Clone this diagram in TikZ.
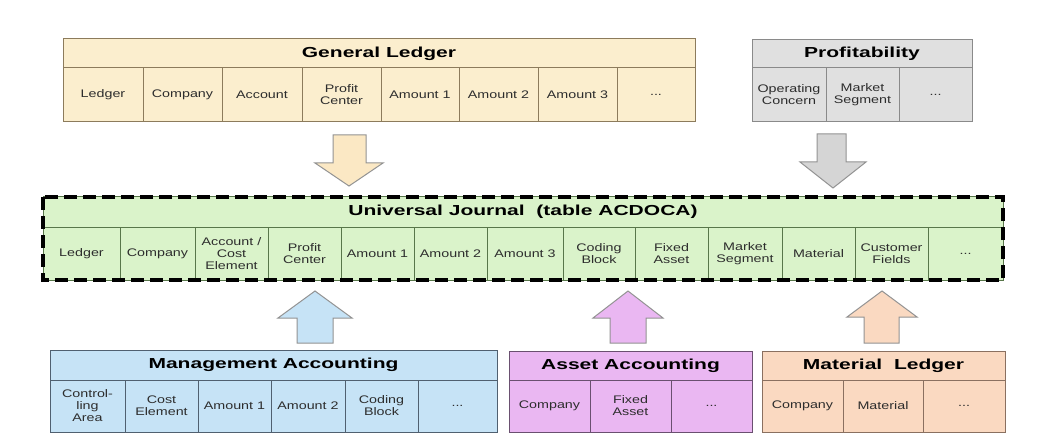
\documentclass[tikz,border=0pt]{standalone}
\usepackage{fontspec}
\setmainfont{Liberation Sans}
\newfontfamily\cellfont{Liberation Sans}[FakeStretch=1.3]
\newfontfamily\hdrfont{Liberation Sans}[FakeStretch=1.45]
\definecolor{glfill}{RGB}{251,238,206}
\definecolor{glline}{RGB}{140,123,92}
\definecolor{pffill}{RGB}{224,224,224}
\definecolor{pfline}{RGB}{138,138,138}
\definecolor{ujfill}{RGB}{218,243,202}
\definecolor{ujline}{RGB}{88,118,74}
\definecolor{mafill}{RGB}{198,227,246}
\definecolor{maline}{RGB}{80,96,112}
\definecolor{aafill}{RGB}{234,183,242}
\definecolor{aaline}{RGB}{106,80,112}
\definecolor{mlfill}{RGB}{250,217,193}
\definecolor{mlline}{RGB}{138,112,96}
\definecolor{celltext}{RGB}{45,45,45}
\newcommand\mycell[7]{\node[#6, minimum width={#3-#2}, minimum height={#5-#4}] (#1) at ({(#2+#3)/2},{(#4+#5)/2}) {#7};}
\tikzset{
  box/.style={rectangle, inner sep=0pt, outer sep=0pt, line width=1pt, align=center},
  cellbox/.style={box, font=\cellfont\fontsize{11}{12}\selectfont, text=celltext},
  hdrbox/.style={box, font=\hdrfont\bfseries\fontsize{14.5}{16}\selectfont, text=black},
  gl/.style={fill=glfill, draw=glline},
  pf/.style={fill=pffill, draw=pfline},
  uj/.style={fill=ujfill, draw=ujline},
  ma/.style={fill=mafill, draw=maline},
  aa/.style={fill=aafill, draw=aaline},
  ml/.style={fill=mlfill, draw=mlline},
  glc/.style={cellbox, gl}, glh/.style={hdrbox, gl},
  pfc/.style={cellbox, pf}, pfh/.style={hdrbox, pf},
  ujc/.style={cellbox, uj}, ujh/.style={hdrbox, uj},
  mac/.style={cellbox, ma}, mah/.style={hdrbox, ma},
  aac/.style={cellbox, aa}, aah/.style={hdrbox, aa},
  mlc/.style={cellbox, ml}, mlh/.style={hdrbox, ml},
  blockarrow/.style={line width=1pt, draw=gray!85, fill=#1},
}
\begin{document}
\begin{tikzpicture}[x=1pt,y=-1pt]
\useasboundingbox[fill=white] (0,0) rectangle (1061,441);
% General Ledger
\mycell{glh}{63}{695}{39}{68}{glh}{General Ledger}
\mycell{gl1}{63}{143}{68}{122}{glc}{Ledger}
\mycell{gl2}{143}{222}{68}{122}{glc}{Company}
\mycell{gl3}{222}{302}{68}{122}{glc}{Account}
\mycell{gl4}{302}{381}{68}{122}{glc}{Profit\\Center}
\mycell{gl5}{381}{459}{68}{122}{glc}{Amount 1}
\mycell{gl6}{459}{538}{68}{122}{glc}{Amount 2}
\mycell{gl7}{538}{617}{68}{122}{glc}{Amount 3}
\mycell{gl8}{617}{695}{68}{122}{glc}{...}
% Profitability
\mycell{pfh}{752}{972}{40}{68}{pfh}{Profitability}
\mycell{pf1}{752}{826}{68}{122}{pfc}{Operating\\Concern}
\mycell{pf2}{826}{899}{68}{122}{pfc}{Market\\Segment}
\mycell{pf3}{899}{972}{68}{122}{pfc}{...}
% Universal Journal
\mycell{ujh}{43}{1003}{197}{227}{ujh}{Universal Journal\ \ (table ACDOCA)}
\mycell{uj1}{43}{120}{227}{280}{ujc}{Ledger}
\mycell{uj2}{120}{195}{227}{280}{ujc}{Company}
\mycell{uj3}{195}{268}{227}{280}{ujc}{Account /\\Cost\\Element}
\mycell{uj4}{268}{341}{227}{280}{ujc}{Profit\\Center}
\mycell{uj5}{341}{414}{227}{280}{ujc}{Amount 1}
\mycell{uj6}{414}{487}{227}{280}{ujc}{Amount 2}
\mycell{uj7}{487}{563}{227}{280}{ujc}{Amount 3}
\mycell{uj8}{563}{635}{227}{280}{ujc}{Coding\\Block}
\mycell{uj9}{635}{708}{227}{280}{ujc}{Fixed\\Asset}
\mycell{uj10}{708}{782}{227}{280}{ujc}{Market\\Segment}
\mycell{uj11}{782}{855}{227}{280}{ujc}{Material}
\mycell{uj12}{855}{928}{227}{280}{ujc}{Customer\\Fields}
\mycell{uj13}{928}{1003}{227}{280}{ujc}{...}
\draw[line width=3.3pt, dash pattern=on 13pt off 6pt] (ujh.north west) rectangle (uj13.south east);
% Management Accounting
\mycell{mah}{50}{497}{350}{380}{mah}{Management Accounting}
\mycell{ma1}{50}{125}{380}{432}{mac}{Control-\\ling\\Area}
\mycell{ma2}{125}{198}{380}{432}{mac}{Cost\\Element}
\mycell{ma3}{198}{271}{380}{432}{mac}{Amount 1}
\mycell{ma4}{271}{345}{380}{432}{mac}{Amount 2}
\mycell{ma5}{345}{418}{380}{432}{mac}{Coding\\Block}
\mycell{ma6}{418}{497}{380}{432}{mac}{...}
% Asset Accounting
\mycell{aah}{509}{752}{351}{380}{aah}{Asset Accounting}
\mycell{aa1}{509}{590}{380}{432}{aac}{Company}
\mycell{aa2}{590}{671}{380}{432}{aac}{Fixed\\Asset}
\mycell{aa3}{671}{752}{380}{432}{aac}{...}
% Material Ledger
\mycell{mlh}{762}{1005}{351}{380}{mlh}{Material\ \ Ledger}
\mycell{ml1}{762}{843}{380}{432}{mlc}{Company}
\mycell{ml2}{843}{923}{380}{432}{mlc}{Material}
\mycell{ml3}{923}{1005}{380}{432}{mlc}{...}
% block arrows
\draw[blockarrow=glfill!95!orange] (333,135) -- (366,135) -- (366,163) -- (383,163) -- (349,186) -- (315,163) -- (333,163) -- cycle;
\draw[blockarrow=pffill!95!black] (817,134) -- (846,134) -- (846,162) -- (866,162) -- (833,188) -- (800,162) -- (817,162) -- cycle;
\draw[blockarrow=mafill] (297,343) -- (333,343) -- (333,318) -- (352,318) -- (315,291) -- (278,318) -- (297,318) -- cycle;
\draw[blockarrow=aafill] (610,343) -- (646,343) -- (646,318) -- (663,318) -- (628,291) -- (593,318) -- (610,318) -- cycle;
\draw[blockarrow=mlfill] (864,343) -- (899,343) -- (899,317) -- (917,317) -- (882,291) -- (847,317) -- (864,317) -- cycle;
\end{tikzpicture}
\end{document}
